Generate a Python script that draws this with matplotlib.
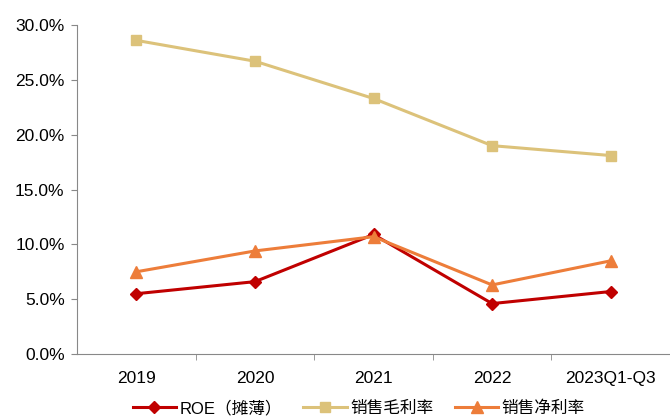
import matplotlib.pyplot as plt
import numpy as np
from matplotlib.ticker import FuncFormatter, FixedLocator

plt.rcParams['font.family'] = ['Liberation Sans', 'Noto Sans CJK SC', 'DejaVu Sans']

categories = ['2019', '2020', '2021', '2022', '2023Q1-Q3']
roe = [5.5, 6.6, 10.9, 4.6, 5.7]
gross_margin = [28.6, 26.7, 23.3, 19.0, 18.1]
net_margin = [7.5, 9.4, 10.7, 6.3, 8.5]

fig = plt.figure(figsize=(6.7, 4.17), dpi=100)
ax = fig.add_axes([0.115, 0.151, 0.885, 0.789])

x = np.arange(len(categories))
ax.plot(x, roe, color='#C00000', lw=2.2, marker='D', ms=6, label='ROE（摊薄）')
ax.plot(x, gross_margin, color='#DCC27A', lw=2.2, marker='s', ms=7, label='销售毛利率')
ax.plot(x, net_margin, color='#ED7D3A', lw=2.2, marker='^', ms=8, label='销售净利率')

ax.set_xlim(-0.5, len(categories) - 0.5)
ax.set_ylim(0, 30)
ax.set_yticks(np.arange(0, 30.1, 5))
ax.yaxis.set_major_formatter(FuncFormatter(lambda v, p: f'{v:.1f}%'))

ax.set_xticks(x)
ax.set_xticklabels(categories)
ax.xaxis.set_minor_locator(FixedLocator(np.arange(0.5, len(categories) - 0.5, 1)))
ax.tick_params(axis='x', which='major', length=0, pad=12, labelsize=12.5)
ax.tick_params(axis='x', which='minor', length=4, direction='out', color='#888888')
ax.tick_params(axis='y', length=4, color='#888888', labelsize=12.5, pad=5)

for s in ['top', 'right']:
    ax.spines[s].set_visible(False)
for s in ['left', 'bottom']:
    ax.spines[s].set_color('#888888')

ax.legend(loc='center', bbox_to_anchor=(0.475, -0.165), ncol=3, frameon=False,
          fontsize=12, handlelength=2.6, columnspacing=1.3, handletextpad=0.2,
          borderpad=0.1)

fig.savefig('out.png', dpi=100)
